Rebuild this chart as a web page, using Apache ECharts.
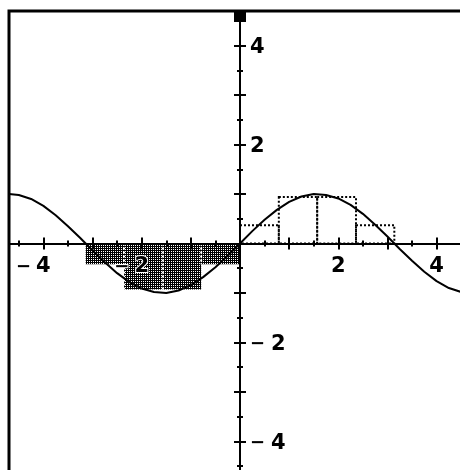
<!DOCTYPE html>
<html>
<head>
<meta charset="utf-8">
<script src="https://cdn.jsdelivr.net/npm/echarts@6/dist/echarts.min.js"></script>
<style>
  html, body { margin: 0; padding: 0; background: #fff; }
  #chart { width: 460px; height: 470px; }
</style>
</head>
<body>
<div id="chart"></div>
<script>
// sin-like curve
const curveX = [-4.7, -4.5, -4.25, -4, -3.75, -3.5, -3.25, -3, -2.75, -2.5, -2.25, -2, -1.75, -1.5, -1.25, -1, -0.75, -0.5, -0.25, 0,
  0.25, 0.5, 0.75, 1, 1.25, 1.5, 1.75, 2, 2.25, 2.5, 2.75, 3, 3.25, 3.5, 3.75, 4, 4.25, 4.5, 4.7]
const curveY = [1.0, 0.98, 0.9, 0.76, 0.57, 0.35, 0.11, -0.14, -0.38, -0.6, -0.78, -0.91, -0.98, -1.0, -0.95, -0.84, -0.68, -0.48, -0.25, 0,
  0.25, 0.48, 0.68, 0.84, 0.95, 1.0, 0.98, 0.91, 0.78, 0.6, 0.38, 0.14, -0.11, -0.35, -0.57, -0.76, -0.9, -0.98, -1.0]

// shaded rectangles (left) and dotted rectangles (right)
const shadedFrom = [-3.14, -2.36, -1.57, -0.79]
const shadedTo = [-2.36, -1.57, -0.79, 0]
const shadedHeight = [-0.42, -0.93, -0.93, -0.42]
const dottedFrom = [0, 0.79, 1.57, 2.36]
const dottedTo = [0.79, 1.57, 2.36, 3.14]
const dottedHeight = [0.37, 0.94, 0.94, 0.37]

// ticks and labels
const majorTicks = [-4, -3, -2, -1, 1, 2, 3, 4]
const halfTicks = [-4.5, -3.5, -2.5, -1.5, -0.5, 0.5, 1.5, 2.5, 3.5, 4.5]
const xTickLabels = [-4, -2, 2, 4]
const yTickLabels = [-4, -2, 2, 4]

const chart = echarts.init(document.getElementById('chart'))

// dither pattern for the shaded area
const tile = document.createElement('canvas')
tile.width = 2
tile.height = 2
const tctx = tile.getContext('2d')
tctx.fillStyle = '#000'
tctx.fillRect(0, 0, 2, 2)
tctx.fillStyle = '#fff'
tctx.fillRect(1, 1, 1, 1)
const dither = { image: tile, repeat: 'repeat' }

// window of the plot
const gridLeft = 9
const gridTop = 11
const gridW = 462
const gridH = 465
const vMin = -4.7
const vMax = 4.7
// where the origin falls inside the grid (label axes are shifted there)
const zeroX = gridW * (0 - vMin) / (vMax - vMin)
const zeroY = gridH * (vMax - 0) / (vMax - vMin)

const font = 'DejaVu Sans'
const halo = { textBorderColor: '#fff', textBorderWidth: 2 }
const richX = {
  m: Object.assign({ fontFamily: font, fontSize: 18, fontWeight: 'bold', color: '#000', padding: [0, 5, 0, 0] }, halo),
  d: Object.assign({ fontFamily: font, fontSize: 21, fontWeight: 'bold', color: '#000' }, halo),
  p: { fontFamily: font, fontSize: 18, fontWeight: 'bold', color: 'rgba(0,0,0,0)', padding: [0, 0, 0, 5] }
}
const richY = {
  m: { fontFamily: font, fontSize: 18, fontWeight: 'bold', color: '#000', padding: [4, 6, 0, 0] },
  d: { fontFamily: font, fontSize: 21, fontWeight: 'bold', color: '#000', padding: [4, 0, 0, 0] }
}

const axisBase = {
  type: 'value',
  min: vMin,
  max: vMax,
  splitLine: { show: false },
  z: 5
}
const lineBlack = { color: '#000', width: 2 }

// tick axes: one per tick direction / tick length, all sitting on zero
const tickAxis = (position, ticks, len, showLine, arrow) => Object.assign({}, axisBase, {
  position: position,
  axisLine: Object.assign({ show: showLine, onZero: true, onZeroAxisIndex: 0, lineStyle: lineBlack },
    arrow ? { symbol: ['none', 'rect'], symbolSize: [12, 11], symbolOffset: [0, -5.5] } : {}),
  axisTick: { show: true, customValues: ticks, length: len, lineStyle: lineBlack },
  axisLabel: { show: false }
})
// label axes: no line, moved onto the origin with offset
const labelAxis = (position, offset, labels, margin, fmt, rich) => Object.assign({}, axisBase, {
  position: position,
  offset: offset,
  axisLine: { show: false, onZero: false },
  axisTick: { show: false },
  axisLabel: { show: true, customValues: labels, margin: margin, formatter: fmt, rich: rich }
})

const rectItem = (style, dividers) => (params, api) => {
  const p0 = api.coord([api.value(0), 0])
  const p1 = api.coord([api.value(1), api.value(2)])
  const x = Math.min(p0[0], p1[0])
  const y = Math.min(p0[1], p1[1])
  const w = Math.abs(p1[0] - p0[0])
  const h = Math.abs(p1[1] - p0[1])
  const children = [{ type: 'rect', shape: { x: x, y: y, width: w, height: h }, style: style }]
  if (dividers && params.dataIndex > 0) {
    children.push({
      type: 'line',
      shape: { x1: x, y1: y, x2: x, y2: y + h },
      style: { stroke: '#fff', lineWidth: 2, lineDash: [2, 2] }
    })
  }
  return { type: 'group', children: children }
}

const options = {
  animation: false,
  backgroundColor: '#fff',
  grid: {
    show: true,
    left: gridLeft,
    top: gridTop,
    width: gridW,
    height: gridH,
    containLabel: false,
    outerBoundsMode: 'none',
    borderColor: '#000',
    borderWidth: 3,
    backgroundColor: 'rgba(0,0,0,0)'
  },
  xAxis: [
    tickAxis('bottom', majorTicks, 6, true, false),
    tickAxis('top', majorTicks, 6, false, false),
    tickAxis('bottom', halfTicks, 3, false, false),
    tickAxis('top', halfTicks, 3, false, false),
    labelAxis('bottom', zeroY - gridH, xTickLabels, 13,
      v => v < 0 ? '{m|−}{d|' + (-v) + '}{p|−}' : '{d|' + v + '}', richX)
  ],
  yAxis: [
    tickAxis('left', majorTicks, 6, true, true),
    tickAxis('right', majorTicks, 6, false, false),
    tickAxis('left', halfTicks, 3, false, false),
    tickAxis('right', halfTicks, 3, false, false),
    labelAxis('right', zeroX - gridW, yTickLabels, 10,
      v => v < 0 ? '{m|−}{d|' + (-v) + '}' : '{d|' + v + '}', richY)
  ],
  series: [
    {
      type: 'custom',
      renderItem: rectItem({ fill: dither }, true),
      data: shadedFrom.map((v, i) => [v, shadedTo[i], shadedHeight[i]])
    },
    {
      type: 'custom',
      renderItem: rectItem({ fill: null, stroke: '#000', lineWidth: 2, lineDash: [2, 2] }, false),
      data: dottedFrom.map((v, i) => [v, dottedTo[i], dottedHeight[i]])
    },
    {
      type: 'line',
      data: curveX.map((v, i) => [v, curveY[i]]),
      symbol: 'none',
      lineStyle: { color: '#000', width: 2 }
    }
  ]
}

chart.setOption(options)
</script>
</body>
</html>
